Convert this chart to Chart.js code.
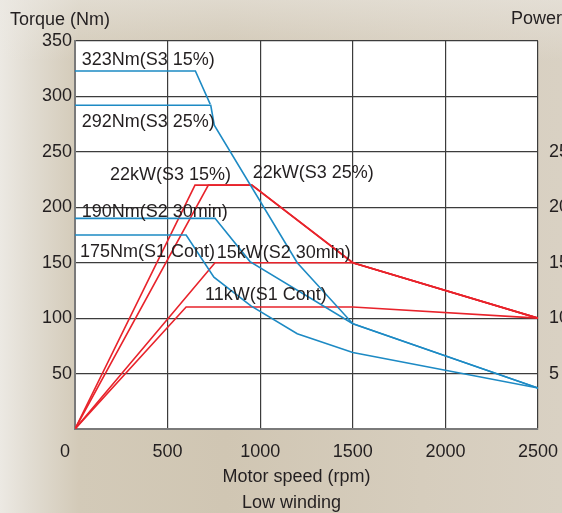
<!DOCTYPE html>
<html>
<head>
<meta charset="utf-8">
<script src="https://cdn.jsdelivr.net/npm/chart.js@4.4.1/dist/chart.umd.min.js"></script>
<style>
  html, body { margin: 0; padding: 0; }
  body {
    width: 562px; height: 513px; overflow: hidden;
    background: linear-gradient(to right, #ece9e3 0%, #e2ddd3 5%, #d3cab8 14%, #d0c6b3 40%, #d6cdbd 75%, #d9d1c3 100%);
  }
  #wrap { position: relative; width: 562px; height: 513px;
    background: linear-gradient(to bottom, rgba(236,233,227,0.55) 0%, rgba(236,233,227,0) 12%); }
</style>
</head>
<body>
<div id="wrap"><canvas id="torque" width="562" height="513"></canvas></div>
<script>
'use strict'

// torque curves (Nm) against motor speed (rpm)
var s3_15_speed = [0, 650, 730];
var s3_15_torque = [323, 323, 293];
var s3_25_speed = [0, 733, 752, 1200, 1500, 2500];
var s3_25_torque = [292, 292, 274, 150, 95, 37];
var s2_speed = [0, 756, 945, 1500, 2500];
var s2_torque = [190, 190, 151, 95, 37];
var s1_speed = [0, 600, 750, 950, 1200, 1500, 2500];
var s1_torque = [175, 175, 137, 111, 86, 69, 37];

// power curves (kW)
var p_s3_15_speed = [0, 648, 955, 1500, 2500];
var p_s3_15_power = [0, 22, 22, 15, 10];
var p_s3_25_speed = [0, 720, 955, 1500, 2500];
var p_s3_25_power = [0, 22, 22, 15, 10];
var p_s2_speed = [0, 756, 1500, 2500];
var p_s2_power = [0, 15, 15, 10];
var p_s1_speed = [0, 600, 1500, 2500];
var p_s1_power = [0, 11, 11, 10];

var speedTicks = [0, 500, 1000, 1500, 2000, 2500];
var torqueTicks = [50, 100, 150, 200, 250, 300, 350];
var powerTicks = [5, 10, 15, 20, 25];

// curve labels: text, rpm, torque scale value
var notes = [
  ['323Nm(S3 15%)', 36, 333],
  ['292Nm(S3 25%)', 36, 276.5],
  ['22kW(S3 15%)', 189, 229],
  ['22kW(S3 25%)', 960, 230.5],
  ['190Nm(S2 30min)', 36, 196],
  ['175Nm(S1 Cont)', 27, 160],
  ['15kW(S2 30min)', 765, 158.5],
  ['11kW(S1 Cont)', 702, 121]
];

var blue = '#1d8ac4';
var red = '#e8232b';
var font = "'Liberation Sans', Arial, Helvetica, sans-serif";
var textColor = '#231f20';

function pts(xs, ys) {
  return xs.map(function (x, i) { return {x: x, y: ys[i]}; });
}

function line(label, xs, ys, color, axis) {
  return {
    label: label,
    data: pts(xs, ys),
    borderColor: color,
    backgroundColor: color,
    borderWidth: 1.6,
    pointRadius: 0,
    tension: 0,
    fill: false,
    yAxisID: axis
  };
}

var bgPlugin = {
  id: 'plotBg',
  beforeDraw: function (chart) {
    var a = chart.chartArea, c = chart.ctx;
    c.save();
    c.fillStyle = '#ffffff';
    c.fillRect(a.left, a.top, a.right - a.left, a.bottom - a.top);
    c.restore();
  }
};

var textPlugin = {
  id: 'notes',
  afterDatasetsDraw: function (chart) {
    var c = chart.ctx, xs = chart.scales.x, ys = chart.scales.y;
    c.save();
    c.font = '18px ' + font;
    c.fillStyle = textColor;
    c.textBaseline = 'middle';
    c.textAlign = 'left';
    notes.forEach(function (n) {
      c.fillText(n[0], xs.getPixelForValue(n[1]), ys.getPixelForValue(n[2]));
    });
    c.fillText('Torque (Nm)', 10, 20);
    c.fillText('Power', 511, 19);
    c.restore();
  }
};

Chart.defaults.font.family = font;
Chart.defaults.font.size = 18;
Chart.defaults.color = textColor;

var ctx = document.getElementById('torque');
var mychart = new Chart(ctx, {
  type: 'line',
  data: {
    datasets: [
      line('323Nm(S3 15%)', s3_15_speed, s3_15_torque, blue, 'y'),
      line('292Nm(S3 25%)', s3_25_speed, s3_25_torque, blue, 'y'),
      line('190Nm(S2 30min)', s2_speed, s2_torque, blue, 'y'),
      line('175Nm(S1 Cont)', s1_speed, s1_torque, blue, 'y'),
      line('22kW(S3 15%)', p_s3_15_speed, p_s3_15_power, red, 'y1'),
      line('22kW(S3 25%)', p_s3_25_speed, p_s3_25_power, red, 'y1'),
      line('15kW(S2 30min)', p_s2_speed, p_s2_power, red, 'y1'),
      line('11kW(S1 Cont)', p_s1_speed, p_s1_power, red, 'y1')
    ]
  },
  options: {
    responsive: false,
    animation: false,
    devicePixelRatio: 1,
    layout: {padding: {top: 41, left: 0, right: 0, bottom: 0}},
    plugins: {legend: {display: false}, tooltip: {enabled: false}},
    scales: {
      x: {
        type: 'linear',
        min: 0, max: 2500,
        afterBuildTicks: function (s) { s.ticks = speedTicks.map(function (v) { return {value: v}; }); },
        afterFit: function (s) { s.height = 84; s.paddingLeft = 0; s.paddingRight = 0; },
        grid: {color: '#3c3c3c', lineWidth: 1.2, drawTicks: false},
        border: {color: '#7a7a7a', width: 2},
        ticks: {
          padding: 12, maxRotation: 0, autoSkip: false,
          callback: function (v) { return v === 0 ? '0    ' : String(v); }
        },
        title: {
          display: true,
          // trailing spaces nudge the centred lines left like the original
          text: ['Motor speed (rpm)    ', 'Low winding      '],
          font: {size: 18, lineHeight: '26px'},
          padding: {top: 0, bottom: -3}
        }
      },
      y: {
        position: 'left',
        min: 0, max: 350,
        afterBuildTicks: function (s) { s.ticks = [0].concat(torqueTicks).map(function (v) { return {value: v}; }); },
        afterFit: function (s) { s.width = 75; s.paddingTop = 0; s.paddingBottom = 0; },
        grid: {color: '#3c3c3c', lineWidth: 1.2, drawTicks: false},
        border: {color: '#7a7a7a', width: 2},
        ticks: {
          padding: 3,
          callback: function (v) { return v === 0 ? '' : String(v); }
        }
      },
      y1: {
        position: 'right',
        min: 0, max: 35,
        afterBuildTicks: function (s) { s.ticks = powerTicks.map(function (v) { return {value: v}; }); },
        afterFit: function (s) { s.width = 24; s.paddingTop = 0; s.paddingBottom = 0; },
        grid: {display: false, drawTicks: false},
        border: {display: false},
        ticks: {padding: 11}
      }
    }
  },
  plugins: [bgPlugin, textPlugin]
});
</script>
</body>
</html>
